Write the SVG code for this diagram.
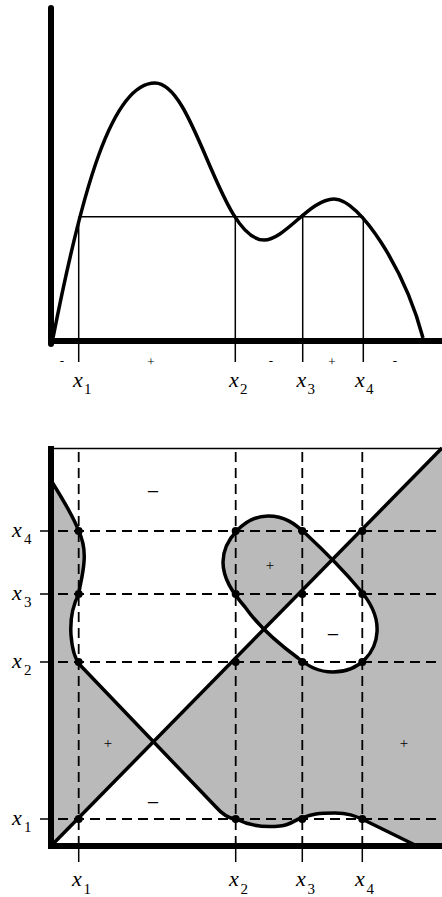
<svg xmlns="http://www.w3.org/2000/svg" width="442" height="897" viewBox="0 0 442 897">
<style>
.axis{stroke:#000;stroke-width:6;fill:none}
.thin{stroke:#000;stroke-width:1.5;fill:none}
.curve{stroke:#000;stroke-width:3.5;fill:none;stroke-linejoin:round}
.dash{stroke:#000;stroke-width:1.8;fill:none;stroke-dasharray:10 6}
.gray{fill:#bababa;stroke:none}
.lab{font-family:"Liberation Serif",serif;font-style:italic;font-size:22px;fill:#000}
.sub{font-family:"Liberation Serif",serif;font-size:15px;fill:#000}
.sgn{font-family:"Liberation Serif",serif;font-size:13px;fill:#000;text-anchor:middle}
.sgn2{font-family:"Liberation Serif",serif;font-size:15px;fill:#000;text-anchor:middle}
.min2{font-family:"Liberation Serif",serif;font-size:22px;fill:#000;text-anchor:middle}
</style>
<defs>
<path id="oval" d="M 268 516 C 285 516, 295 524, 305 533 C 320 547, 345 572, 360 590 C 372 604, 378 618, 377 632 C 376 652, 360 672, 333 672 C 318 672, 308 666, 298 658 C 283 647, 259 627, 245 607 C 232 592, 223 578, 223 562 C 223 540, 245 516, 268 516 Z"/>
<clipPath id="ovalclip"><use href="#oval"/></clipPath>
</defs>

<!-- ===== Top plot ===== -->
<g id="top-plot">
  <g id="top-guides">
    <line class="thin" x1="78.7" y1="216.7" x2="363.3" y2="216.7"/>
    <line class="thin" x1="78.7" y1="216.7" x2="78.7" y2="362"/>
    <line class="thin" x1="235.3" y1="216.7" x2="235.3" y2="362"/>
    <line class="thin" x1="302.7" y1="216.7" x2="302.7" y2="362"/>
    <line class="thin" x1="363.3" y1="216.7" x2="363.3" y2="362"/>
  </g>
  <path id="top-curve" class="curve" d="M 53 338 C 82 190, 112 83, 155 83 C 195 83, 220 240, 264 240 C 285 240, 310 199, 334 199 C 360 199, 405 270, 423 338"/>
  <g id="top-axes">
    <line class="axis" x1="51" y1="8" x2="51" y2="344" stroke-linecap="round"/>
    <line class="axis" x1="48" y1="341" x2="442" y2="341"/>
  </g>
  <g id="top-signs">
    <text class="sgn" x="62" y="365">-</text>
    <text class="sgn" x="151" y="366">+</text>
    <text class="sgn" x="271" y="365">-</text>
    <text class="sgn" x="332" y="366">+</text>
    <text class="sgn" x="395" y="365">-</text>
  </g>
  <g id="top-labels">
    <text class="lab" x="73" y="386.5">x</text><text class="sub" x="84" y="393.5">1</text>
    <text class="lab" x="229" y="386.5">x</text><text class="sub" x="240" y="393.5">2</text>
    <text class="lab" x="296.5" y="386.5">x</text><text class="sub" x="307.5" y="393.5">3</text>
    <text class="lab" x="355" y="386.5">x</text><text class="sub" x="366" y="393.5">4</text>
  </g>
</g>

<!-- ===== Bottom plot ===== -->
<g id="bottom-plot">
  <g id="shading">
    <path class="gray" d="M 51 846 L 51 482 L 52 482 C 62 498, 74 518, 78.7 531 C 83 540, 85 550, 84 562 C 83 575, 80 585, 78.7 594 C 73 605, 70 620, 71 635 C 72 648, 74 658, 80 665 L 153 742.2 Z"/>
    <path class="gray" d="M 153 742.2 L 442 448 L 442 846 L 417 846 L 362 819 C 355 816, 348 813, 335 813 C 318 813, 312 814, 302 818 C 295 819, 292 825, 280 826 C 262 828, 248 825, 236 819 C 230 819, 222 814, 215 806 Z"/>
    <g clip-path="url(#ovalclip)">
      <polygon points="51,846 51,448 442,448" fill="#bababa"/>
      <polygon points="51,846 442,448 442,846" fill="#ffffff"/>
    </g>
  </g>
  <g id="grid">
    <line class="dash" x1="78.7" y1="452" x2="78.7" y2="846"/>
    <line class="dash" x1="235.7" y1="452" x2="235.7" y2="846"/>
    <line class="dash" x1="302.3" y1="452" x2="302.3" y2="846"/>
    <line class="dash" x1="362.3" y1="452" x2="362.3" y2="846"/>
    <line class="dash" x1="58" y1="531" x2="442" y2="531"/>
    <line class="dash" x1="58" y1="594" x2="442" y2="594"/>
    <line class="dash" x1="58" y1="662" x2="442" y2="662"/>
    <line class="dash" x1="58" y1="819" x2="442" y2="819"/>
    <line class="thin" x1="78.7" y1="846" x2="78.7" y2="862" stroke-width="2"/>
    <line class="thin" x1="235.7" y1="846" x2="235.7" y2="862" stroke-width="2"/>
    <line class="thin" x1="302.3" y1="846" x2="302.3" y2="862" stroke-width="2"/>
    <line class="thin" x1="362.3" y1="846" x2="362.3" y2="862" stroke-width="2"/>
    <line class="thin" x1="40" y1="531" x2="51" y2="531" stroke-width="2"/>
    <line class="thin" x1="40" y1="594" x2="51" y2="594" stroke-width="2"/>
    <line class="thin" x1="40" y1="662" x2="51" y2="662" stroke-width="2"/>
    <line class="thin" x1="40" y1="819" x2="51" y2="819" stroke-width="2"/>
  </g>
  <g id="curves">
    <line class="curve" x1="51" y1="846" x2="442" y2="448"/>
    <path class="curve" d="M 52 482 C 62 498, 74 518, 78.7 531 C 83 540, 85 550, 84 562 C 83 575, 80 585, 78.7 594 C 73 605, 70 620, 71 635 C 72 648, 74 658, 80 665 L 215 806 C 222 814, 230 819, 236 819 C 248 825, 262 828, 280 826 C 292 825, 295 819, 302 818 C 312 814, 318 813, 335 813 C 348 813, 355 816, 362 819 L 417 846"/>
    <use href="#oval" class="curve"/>
  </g>
  <g id="dots" fill="#000">
    <circle cx="78.7" cy="531" r="4"/><circle cx="78.7" cy="594" r="4"/><circle cx="78.7" cy="662" r="4"/><circle cx="78.7" cy="819" r="4"/>
    <circle cx="235.7" cy="531" r="4"/><circle cx="235.7" cy="594" r="4"/><circle cx="235.7" cy="662" r="4"/><circle cx="235.7" cy="819" r="4"/>
    <circle cx="302.3" cy="531" r="4"/><circle cx="302.3" cy="594" r="4"/><circle cx="302.3" cy="662" r="4"/><circle cx="302.3" cy="819" r="4"/>
    <circle cx="362.3" cy="531" r="4"/><circle cx="362.3" cy="594" r="4"/><circle cx="362.3" cy="662" r="4"/><circle cx="362.3" cy="819" r="4"/>
  </g>
  <g id="bottom-axes">
    <line class="thin" x1="51" y1="448.5" x2="442" y2="448.5"/>
    <line class="axis" x1="51" y1="446" x2="51" y2="849"/>
    <line class="axis" x1="48" y1="846" x2="442" y2="846" stroke-width="7"/>
  </g>
  <g id="bottom-signs">
    <text class="min2" x="153" y="499">−</text>
    <text class="sgn2" x="270" y="570">+</text>
    <text class="min2" x="333" y="642">−</text>
    <text class="sgn2" x="108" y="748">+</text>
    <text class="sgn2" x="404" y="748">+</text>
    <text class="min2" x="153" y="810">−</text>
  </g>
  <g id="left-labels">
    <text class="lab" x="12" y="537">x</text><text class="sub" x="24" y="544">4</text>
    <text class="lab" x="12" y="600">x</text><text class="sub" x="24" y="607">3</text>
    <text class="lab" x="12" y="668">x</text><text class="sub" x="24" y="675">2</text>
    <text class="lab" x="12" y="825">x</text><text class="sub" x="24" y="832">1</text>
  </g>
  <g id="bottom-labels">
    <text class="lab" x="72" y="886">x</text><text class="sub" x="83.5" y="894">1</text>
    <text class="lab" x="229" y="886">x</text><text class="sub" x="240.5" y="894">2</text>
    <text class="lab" x="296" y="886">x</text><text class="sub" x="307.5" y="894">3</text>
    <text class="lab" x="355" y="886">x</text><text class="sub" x="366.5" y="894">4</text>
  </g>
</g>
</svg>
